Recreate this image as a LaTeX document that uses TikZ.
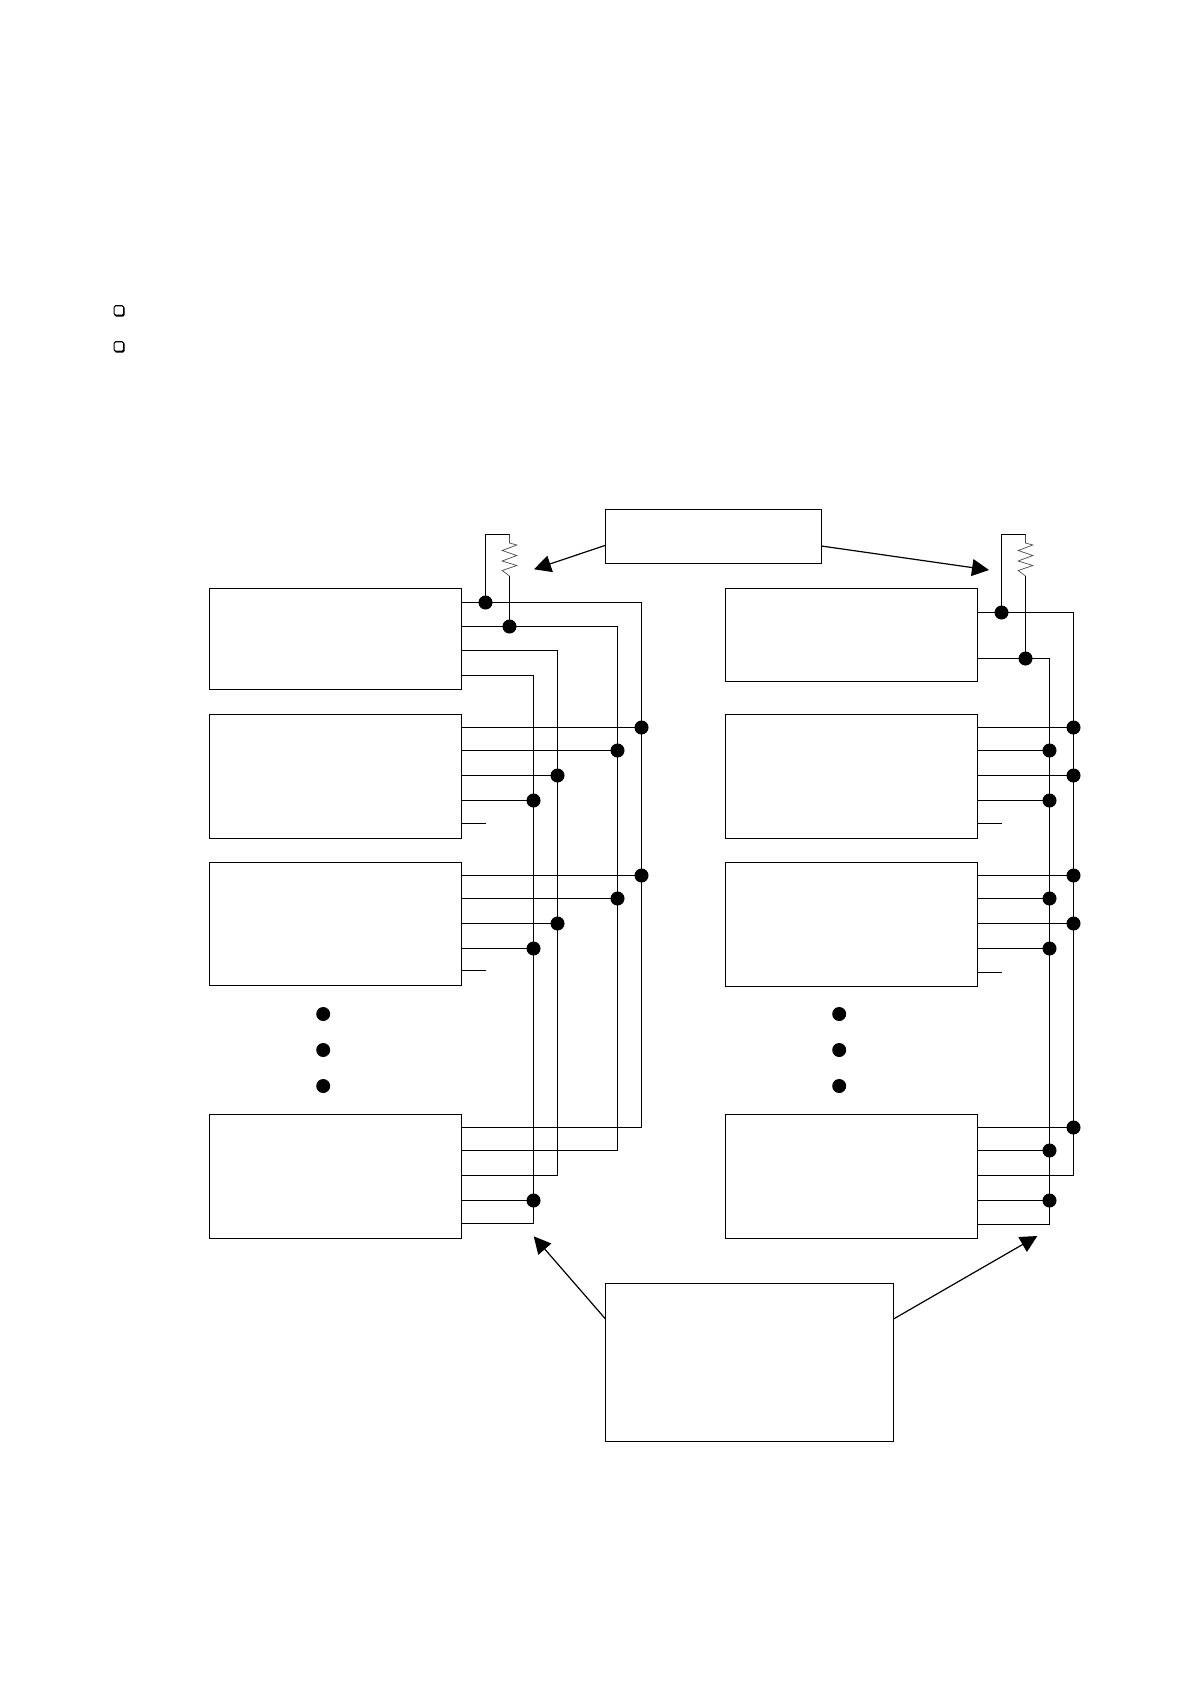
\documentclass[tikz,border=0pt]{standalone}
\usetikzlibrary{arrows.meta}
\tikzset{
  box/.style={draw=black,line width=1.2pt,fill=none,inner sep=0pt,outer sep=0pt,anchor=north west},
  wire/.style={draw=black,line width=1.2pt},
  dot/.style={circle,fill=black,draw=none,minimum size=14pt,inner sep=0pt,outer sep=0pt},
  bigdot/.style={circle,fill=black,draw=none,minimum size=14pt,inner sep=0pt,outer sep=0pt},
  res/.style={draw=black!70,line width=0.7pt},
  pointer/.style={draw=black,line width=1.2pt,-{Triangle[length=17pt,width=17pt]},shorten >=0pt},
  check/.style={draw=black,line width=1.1pt,rounded corners=1.5pt,minimum size=9.5pt,inner sep=0pt,outer sep=0pt,fill=white}
}
\begin{document}
\begin{tikzpicture}[x=1pt,y=-1pt]
\useasboundingbox[fill=white] (0,0) rectangle (1190,1684);
% check bullets
\foreach \nm/\yy in {ca/310.5,cb/346.5}{
  \fill[black,rounded corners=1.5pt] (114.5,\yy-4.5) rectangle (124.5,\yy+6);
  \node[check] (\nm) at (118.8,\yy) {};
}
% boxes
\node[box,minimum width=216pt,minimum height=54pt] (T) at (605.5,509.5) {};
\node[box,minimum width=288pt,minimum height=158pt] (B) at (605.5,1283.5) {};
\node[box,minimum width=252pt,minimum height=101pt] (L1) at (209.5,588.5) {};
\node[box,minimum width=252pt,minimum height=124pt] (L2) at (209.5,714.5) {};
\node[box,minimum width=252pt,minimum height=123pt] (L3) at (209.5,862.5) {};
\node[box,minimum width=252pt,minimum height=124pt] (L4) at (209.5,1114.5) {};
\node[box,minimum width=252pt,minimum height=93pt] (R1) at (725.5,588.5) {};
\node[box,minimum width=252pt,minimum height=124pt] (R2) at (725.5,714.5) {};
\node[box,minimum width=252pt,minimum height=124pt] (R3) at (725.5,862.5) {};
\node[box,minimum width=252pt,minimum height=124pt] (R4) at (725.5,1114.5) {};
% ellipsis dots
\foreach \nm/\xx/\yy in {ea/323.2/1014,eb/323.2/1050,ec/323.2/1086,fa/839.2/1014,fb/839.2/1050,fc/839.2/1086}{
  \node[bigdot] (\nm) at (\xx,\yy) {};
}
% named corner points, left bus
\coordinate (la) at (641.5,602.5); \coordinate (lb) at (617.5,626.5);
\coordinate (lc) at (557.5,650.5); \coordinate (ld) at (533.5,675.5);
\coordinate (lae) at (641.5,1127.5); \coordinate (lbe) at (617.5,1150.5);
\coordinate (lce) at (557.5,1175.5); \coordinate (lde) at (533.5,1223.5);
% named corner points, right bus
\coordinate (ra) at (1073.5,612.5); \coordinate (rb) at (1049.5,658.5);
\coordinate (rae) at (1073.5,1175.5); \coordinate (rbe) at (1049.5,1224.5);
% left bus
\draw[wire] (L1.east |- la) -- (la) -- (lae) -- (L4.east |- lae);
\draw[wire] (L1.east |- lb) -- (lb) -- (lbe) -- (L4.east |- lbe);
\draw[wire] (L1.east |- lc) -- (lc) -- (lce) -- (L4.east |- lce);
\draw[wire] (L1.east |- ld) -- (ld) -- (lde) -- (L4.east |- lde);
% right bus
\draw[wire] (R1.east |- ra) -- (ra) -- (rae) -- (R4.east |- rae);
\draw[wire] (R1.east |- rb) -- (rb) -- (rbe) -- (R4.east |- rbe);
% junction dots on bus rows
\foreach \rw/\ya/\yb/\yc/\yd/\ye/\yf in {2/727.5/750.5/775.5/800.5/823.5/823.5,3/875.5/898.5/923.5/948.5/970.5/972.5}{
  \node[dot] (La\rw) at (641.5,\ya) {};
  \node[dot] (Lb\rw) at (617.5,\yb) {};
  \node[dot] (Lc\rw) at (557.5,\yc) {};
  \node[dot] (Ld\rw) at (533.5,\yd) {};
  \coordinate (Ls\rw) at (485.5,\ye);
  \node[dot] (Ra\rw) at (1073.5,\ya) {};
  \node[dot] (Rb\rw) at (1049.5,\yb) {};
  \node[dot] (Rc\rw) at (1073.5,\yc) {};
  \node[dot] (Rd\rw) at (1049.5,\yd) {};
  \coordinate (Rs\rw) at (1002,\yf);
  \draw[wire] (L\rw.east |- La\rw) -- (La\rw);
  \draw[wire] (L\rw.east |- Lb\rw) -- (Lb\rw);
  \draw[wire] (L\rw.east |- Lc\rw) -- (Lc\rw);
  \draw[wire] (L\rw.east |- Ld\rw) -- (Ld\rw);
  \draw[wire] (L\rw.east |- Ls\rw) -- (Ls\rw);
  \draw[wire] (R\rw.east |- Ra\rw) -- (Ra\rw);
  \draw[wire] (R\rw.east |- Rb\rw) -- (Rb\rw);
  \draw[wire] (R\rw.east |- Rc\rw) -- (Rc\rw);
  \draw[wire] (R\rw.east |- Rd\rw) -- (Rd\rw);
  \draw[wire] (R\rw.east |- Rs\rw) -- (Rs\rw);
}
% bottom row
\node[dot] (Ld4) at (533.5,1200.5) {};
\draw[wire] (L4.east |- Ld4) -- (Ld4);
\node[dot] (Ra4) at (1073.5,1127.5) {};
\node[dot] (Rb4) at (1049.5,1150.5) {};
\node[dot] (Rd4) at (1049.5,1200.5) {};
\draw[wire] (R4.east |- Ra4) -- (Ra4);
\draw[wire] (R4.east |- Rb4) -- (Rb4);
\draw[wire] (R4.east |- Rd4) -- (Rd4);
% pull-up resistors
\node[dot] (pa) at (485.5,602.5) {};
\node[dot] (pb) at (509.5,626.5) {};
\coordinate (ptl) at (485.5,534.5); \coordinate (ptr) at (509.5,534.5);
\coordinate (prb) at (509.5,576);
\draw[wire] (pa) -- (ptl) -- (ptr);
\draw[wire] (prb) -- (pb);
\draw[res] (ptr) -- (509.5,543) -- ++(7.3,2) -- ++(-14.6,5.5) -- ++(14.6,5) -- ++(-14.6,5.5) -- ++(14.6,4.5) -- ++(-14.6,5) -- (prb);
\node[dot] (qa) at (1001.5,612.5) {};
\node[dot] (qb) at (1025.5,658.5) {};
\coordinate (qtl) at (1001.5,534.5); \coordinate (qtr) at (1025.5,534.5);
\coordinate (qrb) at (1025.5,576);
\draw[wire] (qa) -- (qtl) -- (qtr);
\draw[wire] (qrb) -- (qb);
\draw[res] (qtr) -- (1025.5,543) -- ++(7.3,2) -- ++(-14.6,5.5) -- ++(14.6,5) -- ++(-14.6,5.5) -- ++(14.6,4.5) -- ++(-14.6,5) -- (qrb);
% pointers
\coordinate (ta) at (534,569.3); \coordinate (tb) at (989,570);
\coordinate (tc) at (533.7,1236.3); \coordinate (td) at (1037.3,1236);
\draw[pointer] (T.west |- 0,545.3) -- (ta);
\draw[pointer] (T.east |- 0,546) -- (tb);
\draw[pointer] (B.west |- 0,1319) -- (tc);
\draw[pointer] (B.east |- 0,1319) -- (td);
\end{tikzpicture}
\end{document}
